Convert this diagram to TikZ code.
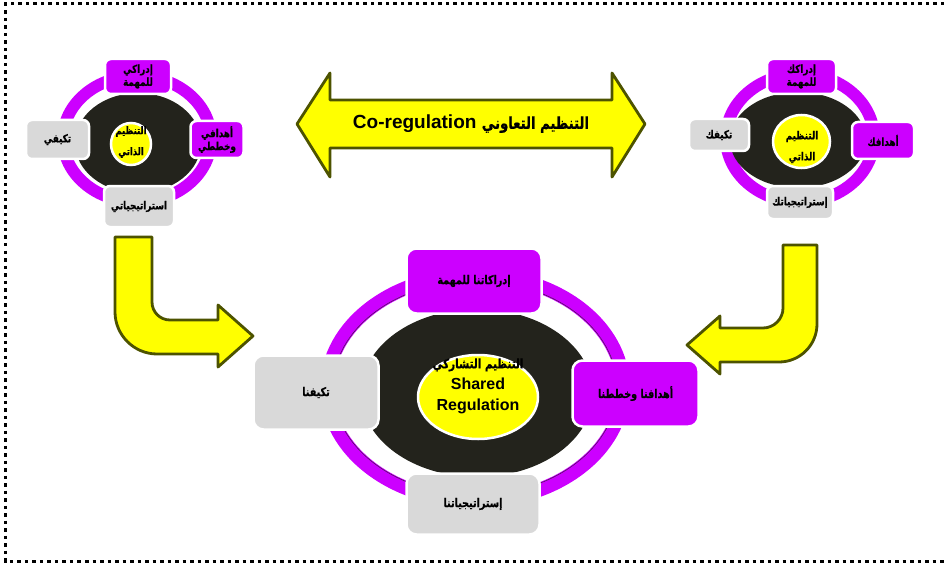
\documentclass[tikz,border=0pt]{standalone}
\usepackage{fontspec}
\setmainfont{Liberation Sans}
\newfontfamily\arabicfont[Script=Arabic, FakeStretch=0.8, BoldFeatures={FakeBold=0.7}]{DejaVu Sans}
\TeXXeTstate=1
\newcommand\artext[1]{{\arabicfont\bfseries\beginR #1\endR}}
\definecolor{ringpurple}{RGB}{204,0,255}
\definecolor{boxgray}{RGB}{217,217,217}
\definecolor{hubdark}{RGB}{35,35,28}
\definecolor{arrowedge}{RGB}{77,83,0}
\definecolor{signyellow}{RGB}{255,255,0}
\begin{document}
\begin{tikzpicture}[x=1pt,y=-1pt,
  tilebase/.style={draw=white, line width=2.5pt, inner sep=0pt, align=center,
    text=black, font=\fontsize{11}{13}\selectfont},
  purplebox/.style={tilebase, fill=ringpurple, rounded corners=6pt},
  graybox/.style={tilebase, fill=boxgray, rounded corners=6pt},
  bigtile/.style={rounded corners=10pt, font=\fontsize{12}{14}\selectfont},
  coretext/.style={inner sep=0pt, align=center, text=black},
  bigarrow/.style={fill=signyellow, draw=arrowedge, line width=2.8pt, line join=round},
  hubring/.style={draw=ringpurple},
  hubdisc/.style={fill=hubdark},
  hubcore/.style={fill=signyellow, draw=white, line width=2.5pt}
]
\useasboundingbox (0,0) rectangle (944,564);

% dotted frame (open on the right)
\draw[line width=3pt, dash pattern=on 3.5pt off 4pt] (944,4) -- (5.5,4) -- (5.5,561) -- (944,561);

% two-headed co-regulation arrow
\draw[bigarrow] (297,124) -- (330,73) -- (330,100) -- (612,100) -- (612,73)
  -- (645,124) -- (612,177) -- (612,148) -- (330,148) -- (330,177) -- cycle;
\node[coretext, font=\bfseries\fontsize{19}{22}\selectfont] (coreg) at (471,124)
  {Co-regulation {\fontsize{16.5}{22}\selectfont\artext{التنظيم التعاوني}}};

% ---- left self-regulation hub ----
\draw[hubring, line width=12pt] (137,139) ellipse [x radius=74, y radius=63];
\fill[hubdisc] (138,143) ellipse [x radius=63, y radius=50];
\filldraw[hubcore] (131,144) ellipse [x radius=20, y radius=21];
\node[coretext, font=\fontsize{10.5}{21}\selectfont] (Lcore) at (131,142)
  {\artext{التنظيم}\\\artext{الذاتي}};
\node[purplebox, minimum width=66pt, minimum height=35pt] (Ltop) at (138,76.5)
  {\artext{إدراكي}\\\artext{للمهمة}};
\node[purplebox, minimum width=53pt, minimum height=37pt] (Lright) at (217,139.5)
  {\artext{أهدافي}\\\artext{وخططي}};
\node[graybox, minimum width=63pt, minimum height=39pt] (Lleft) at (57.5,139.5)
  {\artext{تكيفي}};
\node[graybox, minimum width=70pt, minimum height=41pt] (Lbot) at (139,206.5)
  {\artext{استراتيجياتي}};

% ---- right self-regulation hub ----
\draw[hubring, line width=12pt] (800,138) ellipse [x radius=74, y radius=64];
\fill[hubdisc] (798,140) ellipse [x radius=68, y radius=48];
\filldraw[hubcore] (801.5,141.5) ellipse [x radius=28.5, y radius=26.5];
\node[coretext, font=\fontsize{11}{21}\selectfont] (Rcore) at (802,147)
  {\artext{التنظيم}\\\artext{الذاتي}};
\node[purplebox, minimum width=69pt, minimum height=35pt] (Rtop) at (801.5,76.5)
  {\artext{إدراكك}\\\artext{للمهمة}};
\node[purplebox, minimum width=62pt, minimum height=37pt] (Rright) at (883,140.5)
  {\artext{أهدافك}};
\node[graybox, minimum width=60pt, minimum height=32pt] (Rleft) at (719,135)
  {\artext{تكيفك}};
\node[graybox, minimum width=66pt, minimum height=33pt] (Rbot) at (800,202.5)
  {\artext{إستراتيجياتك}};

% bent arrows feeding the shared hub
\draw[bigarrow] (115,237) -- (152,237) -- (152,302)
  .. controls (152,312) and (160,320) .. (170,320) -- (218,320) -- (218,305)
  -- (253,336) -- (218,367) -- (218,354) -- (157,354)
  .. controls (134,354) and (115,335) .. (115,312) -- cycle;
\draw[bigarrow] (783,245) -- (817,245) -- (817,324)
  .. controls (817,345) and (800,362) .. (779,362) -- (720,362) -- (720,374)
  -- (687,345) -- (720,316) -- (720,328) -- (763,328)
  .. controls (774,328) and (783,319) .. (783,308) -- cycle;

% ---- shared-regulation hub ----
\draw[hubring, line width=14pt] (475,388) ellipse [x radius=148, y radius=113];
\draw[hubdark, line width=0.6pt, opacity=0.7] (475,388) ellipse [x radius=142, y radius=107];
\fill[hubdisc] (477,393) ellipse [x radius=116, y radius=84];
\filldraw[hubcore] (478,397) ellipse [x radius=60, y radius=42];
\node[coretext, font=\bfseries\fontsize{16}{21}\selectfont] (Bcore) at (478,386)
  {{\fontsize{13}{21}\selectfont\artext{التنظيم التشاركي}}\\Shared\\Regulation};
\node[purplebox, bigtile, minimum width=135pt, minimum height=65pt] (Btop) at (474,281)
  {\artext{إدراكاتنا للمهمة}};
\node[purplebox, bigtile, minimum width=126pt, minimum height=66pt] (Bright) at (635.5,393.5)
  {\artext{أهدافنا وخططنا}};
\node[graybox, bigtile, minimum width=125pt, minimum height=74pt] (Bleft) at (316,392.5)
  {\artext{تكيفنا}};
\node[graybox, bigtile, minimum width=133pt, minimum height=61pt] (Bbot) at (473,504)
  {\artext{إستراتيجياتنا}};
\end{tikzpicture}
\end{document}
